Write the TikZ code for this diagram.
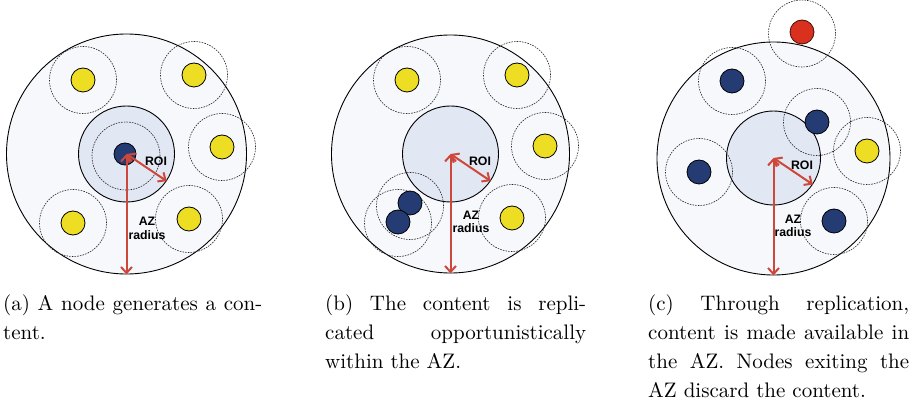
\documentclass[tikz,border=0pt]{standalone}
\usepackage{fontspec}
\usepackage{graphicx}
\newfontfamily\labfont{Liberation Sans}
\usetikzlibrary{arrows.meta}
\definecolor{azfill}{RGB}{247,248,252}
\definecolor{roifill}{RGB}{226,231,244}
\definecolor{navy}{RGB}{36,60,115}
\definecolor{ylw}{RGB}{238,222,35}
\definecolor{rednode}{RGB}{218,48,30}
\definecolor{arr}{RGB}{205,72,58}
\tikzset{
  azcircle/.style={circle, draw=black, line width=0.9pt, fill=azfill, minimum size=#1, inner sep=0},
  roicircle/.style={circle, draw=black, line width=0.9pt, fill=roifill, minimum size=#1, inner sep=0},
  rangecirc/.style={circle, draw=black!85, line width=0.6pt, dash pattern=on 1.6pt off 1.1pt, minimum size=67pt, inner sep=0},
  ynode/.style={circle, draw=black, line width=0.8pt, fill=ylw, minimum size=24pt, inner sep=0},
  bnode/.style={circle, draw=black, line width=0.8pt, fill=navy, minimum size=#1, inner sep=0},
  bnode/.default=24pt,
  rnode/.style={circle, draw=black!70!rednode, line width=0.8pt, fill=rednode, minimum size=24pt, inner sep=0},
  radarrow/.style={draw=arr, line width=2pt, {Straight Barb[length=6pt,width=11pt]}-{Straight Barb[length=6pt,width=11pt]}},
  lab/.style={font=\labfont\bfseries\fontsize{12.3}{13.5}\selectfont, align=center, inner sep=0},
  captext/.style={inner sep=0, anchor=base west},
}
\newcommand{\capbox}[2]{\scalebox{2.1}{\begin{minipage}[t]{#1}\fontsize{10}{13.67}\selectfont #2\end{minipage}}}
\newcommand{\jline}[1]{\makebox[\linewidth][s]{#1}}
\begin{document}
\begin{tikzpicture}[x=1pt,y=-1pt]
\useasboundingbox (0,0) rectangle (914,406);
% ---------- panel (a)
\node[azcircle=240pt] (azA) at (126.5,154) {};
\node[roicircle=96pt] (roiA) at (126.5,154) {};
\node[rangecirc, minimum size=68pt] (rA0) at (126,156) {};
\foreach \n/\x/\y in {1/83/80, 2/194/75, 3/222/147, 4/73/223, 5/189/219}{
  \node[rangecirc] (rA\n) at (\x,\y) {};
  \node[ynode] (yA\n) at (\x,\y) {};
}
\node[bnode=22pt] (a0) at (125,154) {};
\draw[radarrow] (roiA.center) -- (roiA.-34);
\draw[radarrow] (roiA.center) -- (azA.south);
\node[lab] (roiLA) at (156,161) {ROI};
\node[lab] (azLA) at (147,228.5) {AZ\\radius};
% ---------- panel (b)
\node[azcircle=238pt] (azB) at (450.5,154) {};
\node[roicircle=96pt] (roiB) at (450.5,154) {};
\foreach \n/\x/\y in {1/407/80, 2/517/75, 3/545/146, 4/512/218}{
  \node[rangecirc] (rB\n) at (\x,\y) {};
  \node[ynode] (yB\n) at (\x,\y) {};
}
\node[rangecirc] (rB5) at (410,206) {};
\node[rangecirc] (rB6) at (398,223) {};
\node[bnode] (b5) at (410,203) {};
\node[bnode] (b6) at (398,222) {};
\draw[radarrow] (roiB.center) -- (roiB.-34);
\draw[radarrow] (roiB.center) -- (azB.south);
\node[lab] (roiLB) at (480,161) {ROI};
\node[lab] (azLB) at (471,222) {AZ\\radius};
% ---------- panel (c)
\node[azcircle=233pt] (azC) at (773.5,158.5) {};
\node[roicircle=94pt] (roiC) at (773.5,158) {};
\node[rangecirc] (rC0) at (802,33.5) {};
\node[rnode] (c0) at (802,32) {};
\foreach \n/\x/\y in {1/732/81, 2/817/122, 3/699/172, 4/834/221}{
  \node[rangecirc] (rC\n) at (\x,\y) {};
  \node[bnode] (c\n) at (\x,\y) {};
}
\node[rangecirc] (rC5) at (867,151) {};
\node[ynode] (yC5) at (867,151) {};
\draw[radarrow] (roiC.center) -- (roiC.-34);
\draw[radarrow] (roiC.center) -- (azC.south);
\node[lab] (roiLC) at (802,165) {ROI};
\node[lab] (azLC) at (793,226) {AZ\\radius};
% ---------- captions
\node[captext] (capA) at (3,311) {\capbox{123.4pt}{\jline{(a)\ A node generates a con-}\\tent.}};
\node[captext] (capB) at (325,311) {\capbox{124.3pt}{\jline{(b)\ The content is repli-}\\\jline{cated opportunistically}\\within the AZ.}};
\node[captext] (capC) at (648,311) {\capbox{124.3pt}{\jline{(c)\ Through replication,}\\\jline{content is made available in}\\\jline{the AZ. Nodes exiting the}\\AZ discard the content.}};
\end{tikzpicture}
\end{document}
